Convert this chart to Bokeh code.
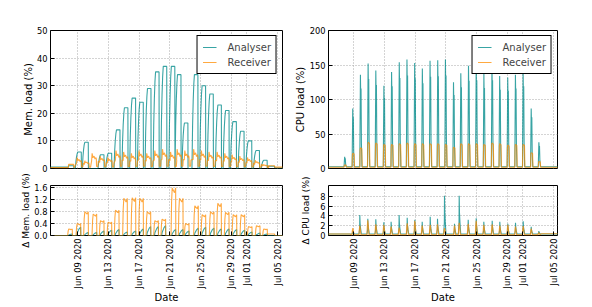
from datetime import datetime, timezone
import numpy as np
from bokeh.plotting import figure
from bokeh.layouts import column, row
from bokeh.models import (Range1d, FixedTicker, DatetimeTickFormatter, Legend, LegendItem,
                          NumeralTickFormatter)
from bokeh.embed import file_html
from bokeh.resources import INLINE

# ---------------- data (day = day of June 2020, Jul 1 = 31) ----------------
TICK_DAYS = [9, 13, 17, 21, 25, 29, 31, 35]

# Memory load, Analyser: plateau start day and plateau value
MEM_A_T = [9.04, 9.95, 11.99, 12.99, 14.07, 15.1, 16.1, 17.1, 18.1, 19.15, 20.15, 21.2,
           22.0, 22.9, 24.2, 25.2, 26.2, 27.25, 28.25, 29.2, 30.2, 31.2, 32.2, 33.2]
MEM_A_V = [6, 9.5, 5, 5.5, 14, 22, 25.5, 24, 29, 35, 37, 37,
           34, 16.5, 34, 30, 27, 23, 21, 17, 13.5, 10, 6.5, 3]
MEM_A_LEAD = [(5.4, 0.5), (7.8, 0.5), (7.85, 1.0), (8.5, 1.0), (8.55, 0.0)]
MEM_A_TAIL = [(33.7, 0.0), (33.72, 0.8), (34.6, 0.8), (34.65, 0.2), (35.7, 0.2)]

# Memory load, Receiver
MEM_R_T = [9.0, 10.0, 10.95, 12.0, 13.0, 14.05, 15.05, 16.05, 17.05, 18.05, 19.1, 20.1,
           21.15, 22.0, 23.0, 24.15, 25.15, 26.15, 27.2, 28.2, 29.15, 30.15, 31.15, 32.15, 33.15]
MEM_R_V = [4, 2.8, 5.5, 4.5, 4, 6.5, 6, 5.5, 6.5, 5.5, 6.5, 7,
           6, 7, 6.5, 7, 6.5, 6, 6, 5.5, 5, 4.5, 4, 3, 1.5]
MEM_R_LEAD = [(5.4, 0.3), (7.8, 0.3), (7.85, 1.5), (8.5, 1.5), (8.55, 0.3)]
MEM_R_TAIL = [(33.75, 0.3), (33.8, 1.0), (34.6, 1.0), (34.65, 0.5), (35.7, 0.5)]

# Delta memory load
DMEM_T = [7.87, 8.96, 9.95, 11.04, 11.99, 12.99, 13.94, 15.02, 16.11, 17.1, 18.06, 19.06, 20.0,
          21.31, 22.26, 23.04, 24.25, 25.21, 26.29, 27.24, 28.24, 29.24, 30.28, 31.23, 32.27, 33.22]
DMEM_R_V = [0.22, 0.4, 0.8, 0.72, 0.5, 0.45, 0.85, 1.25, 1.27, 1.25, 0.8, 0.5, 0.55,
            1.6, 1.25, 0.4, 1.0, 0.7, 0.8, 1.08, 0.78, 0.7, 0.7, 0.3, 0.33, 0.22]
DMEM_A_V = [0.05, 0.28, 0.1, 0.1, 0.15, 0.18, 0.2, 0.12, 0.15, 0.22, 0.3, 0.3, 0.33,
            0.2, 0.2, 0.15, 0.25, 0.28, 0.25, 0.22, 0.22, 0.2, 0.18, 0.12, 0.08, 0.05]

# CPU load
CPU_T = [7.85, 8.9, 9.9, 10.9, 11.9, 12.95, 13.95, 14.95, 15.95, 16.95, 17.95, 18.95, 19.95,
         20.95, 22.0, 22.95, 23.95, 24.95, 25.95, 27.0, 28.0, 29.05, 30.05, 31.05, 32.1, 33.1]
CPU_A_V = [17, 87, 136, 152, 142, 120, 140, 154, 158, 153, 145, 156, 157,
           158, 125, 138, 149, 150, 137, 150, 134, 132, 136, 140, 87, 38]
CPU_R_V = [5, 22, 30, 38, 37, 35, 35, 36, 37, 36, 36, 36, 36,
           35, 31, 36, 36, 36, 35, 37, 36, 34, 35, 35, 23, 10]

# Delta CPU load
DCPU_T = [8.91, 9.82, 10.86, 11.9, 12.94, 13.89, 14.93, 15.98, 16.97, 17.93, 18.97, 19.92,
          20.83, 22.13, 22.74, 23.91, 24.95, 25.94, 27.03, 28.02, 29.06, 30.06, 31.06, 32.1, 33.09]
DCPU_A_V = [1.0, 4.2, 3.4, 3.3, 2.7, 2.8, 4.2, 3.6, 3.2, 2.8, 3.8, 3.4,
            8.1, 2.4, 8.1, 3.2, 3.5, 2.8, 3.0, 2.8, 2.4, 2.6, 2.9, 1.8, 0.9]
DCPU_R_V = [1.5, 2.0, 3.1, 2.3, 2.2, 1.8, 1.6, 2.5, 3.0, 2.0, 2.2, 2.3,
            1.5, 2.0, 2.6, 2.4, 3.0, 2.2, 2.3, 2.0, 2.2, 1.8, 1.9, 1.4, 0.6]

# daily profile shapes (offset in days, fraction of the day's value)
SH_MEM_A = ([-0.32, -0.24, -0.16, -0.08, 0.0, 0.45, 0.47], [0, 0.45, 0.72, 0.9, 1, 1, 0])
SH_MEM_R = ([-0.12, -0.05, 0.05, 0.2, 0.33, 0.45, 0.5, 0.53, 0.7, 0.75],
            [0.45, 1.0, 0.7, 0.8, 0.6, 0.7, 0.6, 0.08, 0.08, 0.45])
SH_DMEM_R = ([-0.15, -0.08, 0.0, 0.3, 0.45, 0.47], [0, 0.7, 1, 0.9, 1, 0])
SH_DMEM_A = ([-0.05, 0.0, 0.25, 0.45, 0.47], [0, 0.3, 0.8, 1, 0])
SH_CPU_A = ([-0.08, 0.0, 0.04, 0.08, 0.13, 0.2], [0, 1, 0.75, 0.85, 0.25, 0])
SH_CPU_R = ([-0.08, -0.04, 0.0, 0.18, 0.23], [0, 0.9, 1, 0.95, 0])
SH_DCPU_A = ([-0.1, -0.02, 0.0, 0.04, 0.1, 0.2], [0, 0.3, 1, 0.55, 0.3, 0])
SH_DCPU_R = ([-0.12, -0.05, 0.0, 0.06, 0.15], [0, 0.7, 1, 0.7, 0])

JUN1 = datetime(2020, 6, 1, tzinfo=timezone.utc).timestamp() * 1000.0
DAY = 86400000.0


def ms(d):
    return JUN1 + (np.asarray(d, dtype=float) - 1.0) * DAY


def build(times, vals, shape, base=0.0, lead=(), tail=()):
    st, sf = shape
    xs, ys = [], []
    for d, v in lead:
        xs.append(d); ys.append(v)
    for t0, v in zip(times, vals):
        for a, f in zip(st, sf):
            xs.append(t0 + a); ys.append(base + (v - base) * f)
    for d, v in tail:
        xs.append(d); ys.append(v)
    return ms(xs), ys


TEAL = "#008b8b"
ORANGE = "#ff8c00"
FONT = "DejaVu Sans"


def make_fig(width, height, lb, rb, tb, bb, xr, yr, yticks, ylabel, show_x, lab_standoff,
             lab_size="10px"):
    p = figure(width=width, height=height, output_backend="svg", toolbar_location=None,
               x_axis_type="datetime", min_border_left=lb, min_border_right=rb,
               min_border_top=tb, min_border_bottom=bb,
               x_range=Range1d(ms(xr[0]), ms(xr[1])), y_range=Range1d(*yr))
    xt = FixedTicker(ticks=list(ms(TICK_DAYS)))
    p.xaxis.ticker = xt
    p.xgrid.ticker = xt
    yt = FixedTicker(ticks=yticks)
    p.yaxis.ticker = yt
    p.ygrid.ticker = yt
    for g in (p.xgrid, p.ygrid):
        g.grid_line_color = "#a8a8a8"
        g.grid_line_dash = "1 2"
        g.grid_line_width = 1
    p.outline_line_color = "black"
    p.outline_line_width = 1
    p.outline_line_alpha = 1
    p.background_fill_color = "white"
    p.border_fill_color = "white"
    for ax in (p.xaxis, p.yaxis):
        ax.axis_line_color = None
        ax.major_tick_in = 4
        ax.major_tick_out = 0
        ax.minor_tick_in = 0
        ax.minor_tick_out = 0
        ax.major_tick_line_color = "black"
        ax.major_label_text_font = FONT
        ax.major_label_text_font_size = "8.3px"
        ax.major_label_text_color = "black"
        ax.axis_label_text_font = FONT
        ax.axis_label_text_font_size = "10px"
        ax.axis_label_text_font_style = "normal"
        ax.axis_label_text_color = "black"
    p.yaxis.axis_label = ylabel
    p.yaxis.axis_label_text_font_size = lab_size
    p.yaxis.major_label_standoff = 3
    p.yaxis.axis_label_standoff = lab_standoff
    fmt = "%b %d %Y"
    p.xaxis.formatter = DatetimeTickFormatter(days=fmt, months=fmt, hours=fmt, years=fmt,
                                              context=None)
    if show_x:
        p.xaxis.axis_label = "Date"
        p.xaxis.major_label_orientation = np.pi / 2
        p.xaxis.major_label_standoff = 3
        p.xaxis.axis_label_standoff = 1
    else:
        p.xaxis.visible = False
    return p


def add_lines(p, a, r, legend):
    ra = p.line(a[0], a[1], line_color=TEAL, line_alpha=0.78, line_width=1.1)
    rr = p.line(r[0], r[1], line_color=ORANGE, line_alpha=0.75, line_width=1.1)
    if legend:
        lg = Legend(items=[LegendItem(label="Analyser", renderers=[ra]),
                           LegendItem(label="Receiver", renderers=[rr])],
                    location="top_right")
        lg.border_line_color = "black"
        lg.border_line_width = 1
        lg.border_line_alpha = 1
        lg.background_fill_alpha = 1
        lg.label_text_font = FONT
        lg.label_text_font_size = "10px"
        lg.glyph_width = 14
        lg.glyph_height = 12
        lg.label_standoff = 11
        lg.label_height = 12
        lg.padding = 5
        lg.spacing = 3
        lg.margin = 5
        p.add_layout(lg)


XL = (5.49, 35.65)
XR = (5.75, 35.52)

p1 = make_fig(288, 174, 50, 6, 30, 6, XL, (0, 50), [0, 10, 20, 30, 40, 50],
              "Mem. load (%)", False, 0)
add_lines(p1,
          build(MEM_A_T, MEM_A_V, SH_MEM_A, 0.0, MEM_A_LEAD, MEM_A_TAIL),
          build(MEM_R_T, MEM_R_V, SH_MEM_R, 0.3, MEM_R_LEAD, MEM_R_TAIL), True)

p2 = make_fig(300, 174, 40, 31, 30, 6, XR, (0, 200), [0, 50, 100, 150, 200],
              "CPU load (%)", False, 1)
add_lines(p2,
          build(CPU_T, CPU_A_V, SH_CPU_A, 2.5, [(5.5, 2.5)], [(35.6, 2.5)]),
          build(CPU_T, CPU_R_V, SH_CPU_R, 1.8, [(5.5, 1.8)], [(35.6, 1.8)]), True)

p3 = make_fig(288, 132, 50, 6, 11, 67, XL, (0, 1.68), [0, 0.4, 0.8, 1.2, 1.6],
              "\u0394 Mem. load (%)", True, 0, "9px")
p3.yaxis.formatter = NumeralTickFormatter(format="0.0")
add_lines(p3,
          build(DMEM_T, DMEM_A_V, SH_DMEM_A, 0.0, [(5.4, 0.0)], [(33.8, 0.0), (35.7, 0.0)]),
          build(DMEM_T, DMEM_R_V, SH_DMEM_R, 0.0, [(5.4, 0.0)],
                [(33.7, 0.05), (34.6, 0.05), (34.65, 0.0), (35.7, 0.0)]),
          False)

p4 = make_fig(300, 132, 40, 31, 11, 67, XR, (0, 10.2), [0, 2, 4, 6, 8],
              "\u0394 CPU load (%)", True, 6, "9px")
add_lines(p4,
          build(DCPU_T, DCPU_A_V, SH_DCPU_A, 0.3, [(5.5, 0.3)], [(35.6, 0.3)]),
          build(DCPU_T, DCPU_R_V, SH_DCPU_R, 0.12, [(5.5, 0.3), (8.5, 0.3)],
                [(33.4, 0.35), (35.6, 0.35)]),
          False)

layout = column(row(p1, p2), row(p3, p4))
open("out.html", "w").write(file_html(layout, INLINE))
